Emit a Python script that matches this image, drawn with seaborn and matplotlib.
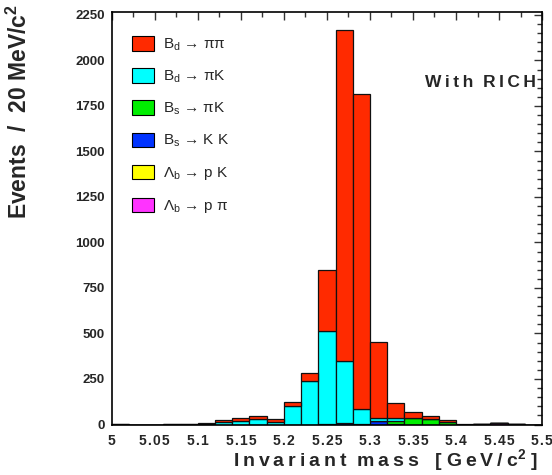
import numpy as np
import pandas as pd
import matplotlib
matplotlib.use("Agg")
import matplotlib.pyplot as plt
from matplotlib.patches import Patch
from matplotlib.ticker import MultipleLocator
import seaborn as sns

# Invariant mass bins (GeV/c^2), 20 MeV wide
bin_edges = [round(5.0 + 0.02 * i, 3) for i in range(26)]
bin_centers = [round(5.01 + 0.02 * i, 3) for i in range(25)]

channels = [
    r"B$_\mathregular{d}$ → ππ",
    r"B$_\mathregular{d}$ → πK",
    r"B$_\mathregular{s}$ → πK",
    r"B$_\mathregular{s}$ → K K",
    r"Λ$_\mathregular{b}$ → p K",
    r"Λ$_\mathregular{b}$ → p π",
]
colors = ["#ff2a00", "#00ffff", "#00ee00", "#0033ff", "#ffff00", "#ff33ff"]

# Events per bin for each decay channel
bd_pipi = [1, 0, 0, 1, 1, 2, 8, 17, 15, 13, 23, 44, 334, 1814, 1730, 415, 82, 32, 18, 11, 1, 0, 0, 0, 0]
bd_piK  = [2, 0, 0, 1, 2, 4, 15, 19, 30, 15, 103, 241, 512, 341, 82, 17, 12, 2, 0, 0, 0, 0, 0, 0, 0]
bs_piK  = [0, 0, 0, 0, 0, 0, 0, 0, 0, 0, 0, 0, 0, 0, 0, 0, 18, 35, 29, 14, 0, 0, 0, 0, 0]
bs_KK   = [0, 0, 0, 0, 0, 0, 0, 0, 0, 0, 0, 0, 3, 10, 3, 20, 4, 0, 0, 0, 0, 0, 0, 0, 0]
lb_pK   = [0, 0, 0, 0, 0, 0, 0, 0, 0, 0, 0, 0, 0, 0, 0, 0, 0, 0, 0, 0, 0, 4, 2, 5, 0]
lb_ppi  = [0, 0, 0, 0, 0, 0, 0, 0, 0, 0, 0, 0, 0, 0, 0, 0, 0, 0, 0, 0, 0, 0, 8, 0, 0]

yticks = [0, 250, 500, 750, 1000, 1250, 1500, 1750, 2000, 2250]
xticks = [5.0, 5.05, 5.1, 5.15, 5.2, 5.25, 5.3, 5.35, 5.4, 5.45, 5.5]
xtick_labels = ["5", "5.05", "5.1", "5.15", "5.2", "5.25", "5.3", "5.35", "5.4", "5.45", "5.5"]

THIN = "\u2009"
HAIR = "\u200a"


def spaced(s, sep=THIN):
    """Letter-spaced text in the style of the old PAW fonts."""
    return sep.join(s)


counts = [bd_pipi, bd_piK, bs_piK, bs_KK, lb_pK, lb_ppi]
df = pd.DataFrame({
    "mass": bin_centers * len(channels),
    "events": [v for series in counts for v in series],
    "channel": [ch for ch in channels for _ in bin_centers],
})

sns.set_style("white")
plt.rcParams["font.family"] = ["Liberation Sans", "DejaVu Sans"]
plt.rcParams["mathtext.fontset"] = "custom"
plt.rcParams["mathtext.rm"] = "Liberation Sans"
plt.rcParams["mathtext.it"] = "Liberation Sans:italic"
plt.rcParams["mathtext.bf"] = "Liberation Sans:bold"

fig = plt.figure(figsize=(5.52, 4.75), dpi=100)
ax = fig.add_axes([0.2024, 0.1063, 0.7796, 0.8684])

sns.histplot(
    data=df, x="mass", weights="events", hue="channel", hue_order=channels,
    multiple="stack", bins=bin_edges, palette=colors, alpha=1,
    edgecolor="#111111", linewidth=0.9, legend=False, ax=ax,
)

ax.set_xlim(5.0, 5.5)
ax.set_ylim(0, 2266)
ax.set_xticks(xticks)
ax.set_xticklabels([spaced(t, HAIR) for t in xtick_labels])
ax.set_yticks(yticks)
ax.xaxis.set_minor_locator(MultipleLocator(0.025))
ax.yaxis.set_minor_locator(MultipleLocator(50))
ax.tick_params(which="both", direction="in", top=True, right=True,
               labelsize=9.5, width=1, color="#333333")
ax.tick_params(axis="x", labelsize=10)
ax.tick_params(which="major", length=6)
ax.tick_params(which="minor", length=3.5)
ax.tick_params(axis="x", pad=7)
ax.tick_params(axis="y", pad=5)
for lab in ax.get_xticklabels() + ax.get_yticklabels():
    lab.set_fontweight("bold")
for sp in ax.spines.values():
    sp.set_color("black")
    sp.set_linewidth(1.2)

ax.set_ylabel("Events  /  20 MeV/c$^\\mathregular{2}$", fontsize=16.5, fontweight="bold",
              ha="right")
ax.yaxis.set_label_coords(-0.185, 1.02)
ax.set_xlabel(spaced("Invariant") + "  " + spaced("mass") + "   [ " + spaced("GeV/c")
              + "$^\\mathregular{2}$ ]",
              fontsize=14, fontweight="bold", ha="right")
ax.xaxis.set_label_coords(0.99, -0.055)

ax.text(5.428, 1880, spaced("With") + "  " + spaced("RICH"), fontsize=12.5,
        fontweight="bold", ha="center", va="center")

handles = [Patch(facecolor=c, edgecolor="black", linewidth=0.8) for c in colors]
ax.legend(handles, channels, loc="upper left", bbox_to_anchor=(0.047, 0.942),
          frameon=False, borderaxespad=0, borderpad=0, fontsize=11,
          handlelength=1.45, handleheight=1.1, labelspacing=1.0, handletextpad=0.6)

fig.savefig("out.png", dpi=100)
